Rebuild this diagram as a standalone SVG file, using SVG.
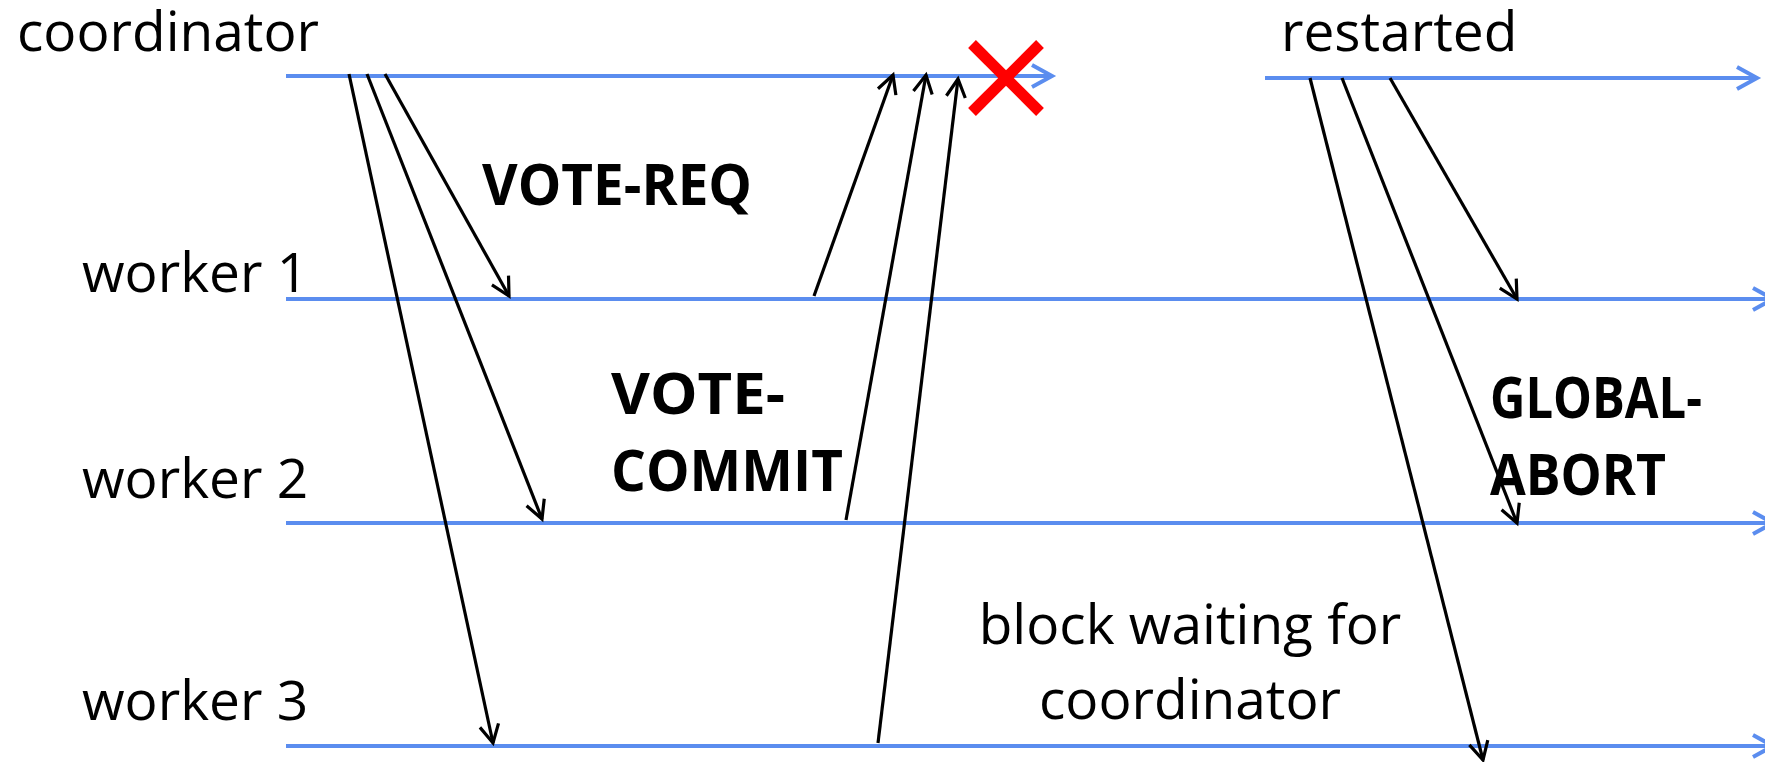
<svg xmlns="http://www.w3.org/2000/svg" width="1765" height="762" viewBox="0 0 1765 762">
  <style>
    .lbl { font-family: "Open Sans", "Noto Sans", "Liberation Sans", sans-serif; font-size: 55px; fill: #000; }
    .bold { font-family: "Open Sans", "Noto Sans", "Liberation Sans", sans-serif; font-size: 58px; font-weight: bold; fill: #000; }
    .life { stroke: #5B8DEF; stroke-width: 4; fill: none; }
    .msg { stroke: #000; stroke-width: 3.2; fill: none; }
    .cross { stroke: #FF0000; stroke-width: 11; stroke-linecap: butt; }
  </style>
  <defs>
    <marker id="blueHead" markerUnits="userSpaceOnUse" viewBox="-26 -16 32 32" markerWidth="32" markerHeight="32" refX="0" refY="0" orient="auto" overflow="visible">
      <path d="M-20,-11 L0,0 L-20,11" fill="none" stroke="#5B8DEF" stroke-width="4"/>
    </marker>
    <marker id="blackHead" markerUnits="userSpaceOnUse" viewBox="-22 -14 28 28" markerWidth="28" markerHeight="28" refX="0" refY="0" orient="auto" overflow="visible">
      <path d="M-18,-9.5 L0,0 L-18,9.5" fill="none" stroke="#000" stroke-width="3.2"/>
    </marker>
  </defs>
  <rect width="1765" height="762" fill="#fff"/>

  <g id="coordinator">
    <text class="lbl" x="17" y="51">coordinator</text>
    <line class="life" x1="286" y1="76" x2="1052" y2="76" marker-end="url(#blueHead)"/>
  </g>
  <g id="crash">
    <line class="cross" x1="972" y1="44" x2="1040" y2="112"/>
    <line class="cross" x1="1040" y1="44" x2="972" y2="112"/>
  </g>
  <g id="restarted">
    <text class="lbl" x="1281" y="51">restarted</text>
    <line class="life" x1="1265" y1="78" x2="1757" y2="78" marker-end="url(#blueHead)"/>
  </g>
  <g id="worker1">
    <text class="lbl" x="82" y="292">worker 1</text>
    <line class="life" x1="286" y1="299" x2="1773" y2="299" marker-end="url(#blueHead)"/>
  </g>
  <g id="worker2">
    <text class="lbl" x="82" y="498">worker 2</text>
    <line class="life" x1="286" y1="523" x2="1773" y2="523" marker-end="url(#blueHead)"/>
  </g>
  <g id="worker3">
    <text class="lbl" x="82" y="720">worker 3</text>
    <line class="life" x1="286" y1="746" x2="1773" y2="746" marker-end="url(#blueHead)"/>
  </g>

  <g id="connectors">
    <!-- VOTE-REQ -->
    <line class="msg" x1="349" y1="74" x2="493" y2="743" marker-end="url(#blackHead)"/>
    <line class="msg" x1="367" y1="74" x2="542" y2="519" marker-end="url(#blackHead)"/>
    <line class="msg" x1="385" y1="74" x2="509" y2="296" marker-end="url(#blackHead)"/>
    <!-- VOTE-COMMIT -->
    <line class="msg" x1="814" y1="296" x2="893" y2="75" marker-end="url(#blackHead)"/>
    <line class="msg" x1="846" y1="520" x2="926" y2="75" marker-end="url(#blackHead)"/>
    <line class="msg" x1="878" y1="743" x2="958" y2="79" marker-end="url(#blackHead)"/>
    <!-- GLOBAL-ABORT -->
    <line class="msg" x1="1310" y1="78" x2="1483" y2="760" marker-end="url(#blackHead)"/>
    <line class="msg" x1="1342" y1="78" x2="1517" y2="523" marker-end="url(#blackHead)"/>
    <line class="msg" x1="1390" y1="78" x2="1517" y2="299" marker-end="url(#blackHead)"/>
  </g>

  <g id="labels">
    <text class="bold" x="482" y="205" textLength="270" lengthAdjust="spacingAndGlyphs">VOTE-REQ</text>
    <text class="bold" x="611" y="414" textLength="174" lengthAdjust="spacingAndGlyphs">VOTE-</text>
    <text class="bold" x="611" y="491" textLength="232" lengthAdjust="spacingAndGlyphs">COMMIT</text>
    <text class="bold" x="1490" y="418" textLength="212" lengthAdjust="spacingAndGlyphs">GLOBAL-</text>
    <text class="bold" x="1490" y="495" textLength="176" lengthAdjust="spacingAndGlyphs">ABORT</text>
    <text class="lbl" x="1190" y="644" text-anchor="middle">block waiting for</text>
    <text class="lbl" x="1190" y="719" text-anchor="middle">coordinator</text>
  </g>
</svg>
